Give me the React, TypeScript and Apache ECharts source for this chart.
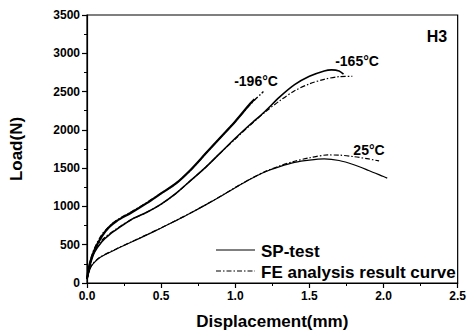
import React, { useEffect, useRef } from "react";
import * as echarts from "echarts";

// Displacement (mm) / Load (N)
const sp196X = [0, 0.02, 0.05, 0.1, 0.15, 0.2, 0.3, 0.4, 0.5, 0.6, 0.7, 0.8, 0.9, 1.0, 1.1, 1.13];
const sp196Y = [60, 260, 430, 610, 730, 810, 920, 1040, 1170, 1300, 1480, 1690, 1900, 2110, 2340, 2400];
const fe196X = [0, 0.02, 0.05, 0.1, 0.15, 0.2, 0.3, 0.4, 0.5, 0.6, 0.7, 0.8, 0.9, 1.0, 1.1, 1.19];
const fe196Y = [50, 270, 450, 630, 740, 820, 930, 1045, 1170, 1300, 1475, 1690, 1900, 2110, 2330, 2500];

const sp165X = [0, 0.02, 0.05, 0.1, 0.15, 0.2, 0.3, 0.4, 0.5, 0.6, 0.7, 0.8, 0.9, 1.0, 1.1, 1.2, 1.3, 1.4, 1.5, 1.6, 1.65, 1.7, 1.73];
const sp165Y = [50, 230, 400, 540, 630, 700, 830, 920, 1030, 1170, 1340, 1510, 1700, 1890, 2070, 2240, 2430, 2590, 2700, 2770, 2784, 2770, 2728];
const fe165X = [0, 0.02, 0.05, 0.1, 0.2, 0.3, 0.4, 0.5, 0.6, 0.7, 0.8, 0.9, 1.0, 1.1, 1.2, 1.3, 1.4, 1.5, 1.6, 1.7, 1.79];
const fe165Y = [50, 240, 420, 560, 710, 830, 920, 1030, 1170, 1340, 1510, 1700, 1880, 2060, 2230, 2380, 2510, 2600, 2660, 2695, 2700];

const sp25X = [0, 0.025, 0.05, 0.09, 0.2, 0.3, 0.4, 0.5, 0.6, 0.7, 0.8, 0.9, 1.0, 1.1, 1.2, 1.3, 1.4, 1.5, 1.6, 1.7, 1.8, 1.9, 2.0, 2.025];
const sp25Y = [50, 207, 270, 336, 444, 535, 625, 718, 815, 915, 1020, 1130, 1245, 1355, 1450, 1520, 1575, 1605, 1620, 1600, 1545, 1470, 1390, 1370];
const fe25X = [0, 0.025, 0.05, 0.09, 0.2, 0.3, 0.4, 0.5, 0.6, 0.7, 0.8, 0.9, 1.0, 1.1, 1.2, 1.3, 1.4, 1.5, 1.625, 1.7, 1.8, 1.9, 1.97];
const fe25Y = [50, 210, 275, 340, 448, 538, 628, 720, 817, 917, 1022, 1132, 1247, 1357, 1455, 1530, 1590, 1635, 1672, 1670, 1650, 1620, 1594];

const curveLabels = ["-196°C", "-165°C", "25°C"];
const specimenLabel = "H3";
const legendNames = ["SP-test", "FE analysis result curve"];

const pairs = (xs: number[], ys: number[]) => xs.map((x, i) => [x, ys[i]]);

const FONT = "'Liberation Sans', Arial, sans-serif";
const DASHDOT = [5, 2, 1.5, 2];

export default function App() {
  const ref = useRef<HTMLDivElement>(null);
  useEffect(() => {
    if (!ref.current) return;
    const chart = echarts.init(ref.current, null, { renderer: "svg" });
    const solid = (data: number[][], w: number) => ({
      type: "line",
      name: legendNames[0],
      data,
      showSymbol: false,
      symbol: "none",
      smooth: 0.3,
      lineStyle: { color: "#000", width: w, type: "solid" },
      itemStyle: { color: "#000" },
      z: 3,
    });
    const dash = (data: number[][], w: number) => ({
      type: "line",
      name: legendNames[1],
      data,
      showSymbol: false,
      symbol: "none",
      smooth: 0.3,
      lineStyle: { color: "#000", width: w, type: DASHDOT },
      itemStyle: { color: "#000" },
      z: 2,
    });
    const label = (text: string, x: number, y: number, size: number) => ({
      type: "text",
      x,
      y,
      style: {
        text,
        fontFamily: FONT,
        fontSize: size,
        fontWeight: "bold",
        fill: "#000",
        textAlign: "center",
        textVerticalAlign: "middle",
      },
    });
    chart.setOption({
      animation: false,
      backgroundColor: "#fff",
      textStyle: { fontFamily: FONT },
      grid: {
        left: 83,
        right: 11,
        top: 15,
        bottom: 49,
        show: true,
        borderColor: "#000",
        borderWidth: 1.2,
        backgroundColor: "transparent",
      },
      xAxis: {
        type: "value",
        min: 0,
        max: 2.5,
        interval: 0.5,
        name: "Displacement(mm)",
        nameLocation: "middle",
        nameGap: 30,
        nameTextStyle: { fontFamily: FONT, fontSize: 17, fontWeight: "bold", color: "#000" },
        axisLine: { show: true, lineStyle: { color: "#000", width: 1.2 } },
        axisTick: { show: true, inside: false, length: 5, lineStyle: { color: "#000", width: 1.2 } },
        minorTick: { show: true, splitNumber: 2, length: 3, lineStyle: { color: "#000", width: 1 } },
        axisLabel: {
          margin: 7,
          fontFamily: FONT,
          fontSize: 12,
          fontWeight: "bold",
          color: "#000",
          formatter: (v: number) => v.toFixed(1),
        },
        splitLine: { show: false },
      },
      yAxis: {
        type: "value",
        min: 0,
        max: 3500,
        interval: 500,
        name: "Load(N)",
        nameLocation: "middle",
        nameGap: 62,
        nameTextStyle: { fontFamily: FONT, fontSize: 17, fontWeight: "bold", color: "#000" },
        axisLine: { show: true, lineStyle: { color: "#000", width: 1.2 } },
        axisTick: { show: true, inside: false, length: 5, lineStyle: { color: "#000", width: 1.2 } },
        minorTick: { show: true, splitNumber: 2, length: 3, lineStyle: { color: "#000", width: 1 } },
        axisLabel: {
          margin: 7,
          fontFamily: FONT,
          fontSize: 12,
          fontWeight: "bold",
          color: "#000",
          formatter: (v: number) => String(v),
        },
        splitLine: { show: false },
      },
      graphic: [
        label(specimenLabel, 437, 36, 16),
        label(curveLabels[0], 256, 81, 14),
        label(curveLabels[1], 357, 61, 14),
        label(curveLabels[2], 369, 150, 14),
        {
          type: "line",
          shape: { x1: 216, y1: 250, x2: 255, y2: 250 },
          style: { stroke: "#000", lineWidth: 1 },
        },
        {
          type: "line",
          shape: { x1: 216, y1: 271, x2: 255, y2: 271 },
          style: { stroke: "#000", lineWidth: 1.2, lineDash: DASHDOT },
        },
        {
          type: "text",
          x: 261,
          y: 251,
          style: { text: legendNames[0], fontFamily: FONT, fontSize: 17, fontWeight: "bold", fill: "#000", textAlign: "left", textVerticalAlign: "middle" },
        },
        {
          type: "text",
          x: 261,
          y: 272,
          style: { text: legendNames[1], fontFamily: FONT, fontSize: 17, fontWeight: "bold", fill: "#000", textAlign: "left", textVerticalAlign: "middle" },
        },
      ],
      series: [
        solid(pairs(sp196X, sp196Y), 2.2),
        solid(pairs(sp165X, sp165Y), 1.6),
        solid(pairs(sp25X, sp25Y), 1.2),
        dash(pairs(fe196X, fe196Y), 1.4),
        dash(pairs(fe165X, fe165Y), 1.2),
        dash(pairs(fe25X, fe25Y), 1.2),
      ],
    });
    return () => chart.dispose();
  }, []);
  return (
    <div
      ref={ref}
      style={{ position: "fixed", left: 0, top: 0, width: 469, height: 335, background: "#fff" }}
    />
  );
}
